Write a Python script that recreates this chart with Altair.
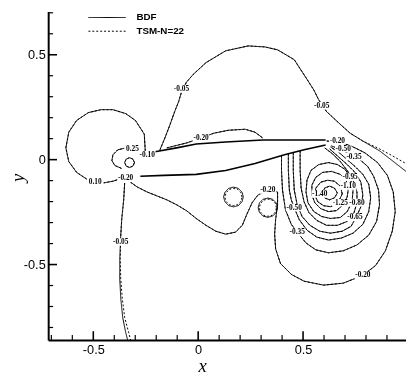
import altair as alt
import pandas as pd

# ---------------- axis ranges (data units) ----------------
X_DOMAIN = [-0.715, 0.9907]
Y_DOMAIN = [-0.8598, 0.7056]
W, H = 365, 335

x_major = [-0.5, 0.0, 0.5]
x_minor = [-0.7, -0.6, -0.4, -0.3, -0.2, -0.1, 0.1, 0.2, 0.3, 0.4, 0.6, 0.7, 0.8, 0.9]
y_major = [-0.5, 0.0, 0.5]
y_minor = [-0.8, -0.7, -0.6, -0.4, -0.3, -0.2, -0.1, 0.1, 0.2, 0.3, 0.4, 0.6, 0.7]

series_names = ["BDF", "TSM-N=22"]

# ---------------- airfoil ----------------
foil_up_x = [-0.2056, -0.1028, -0.0093, 0.1308, 0.3084, 0.4579, 0.6075]
foil_up_y = [0.0374, 0.0561, 0.0748, 0.0841, 0.0935, 0.0935, 0.0935]
foil_lo_x = [-0.2757, -0.1636, -0.0093, 0.1308, 0.2710, 0.4112, 0.5047, 0.6075]
foil_lo_y = [-0.0794, -0.0748, -0.0701, -0.0514, -0.0187, 0.0234, 0.0467, 0.0701]

# ---------------- contour lines, BDF ----------------
c010_x = [-0.2523, -0.2570, -0.2991, -0.3458, -0.4065, -0.4626, -0.5234, -0.5794, -0.6168, -0.6308,
          -0.6168, -0.5794, -0.5234, -0.4579, -0.4065, -0.3645]
c010_y = [0.0421, 0.1215, 0.1869, 0.2196, 0.2383, 0.2383, 0.2243, 0.1869, 0.1308, 0.0561,
          -0.0093, -0.0607, -0.0981, -0.1121, -0.1028, -0.0888]

c025_x = [-0.3458, -0.3832, -0.4065, -0.4112, -0.3972, -0.3645]
c025_y = [0.0561, 0.0467, 0.0234, -0.0047, -0.0280, -0.0421]

c040_x = [-0.3037, -0.3107, -0.3271, -0.3435, -0.3505, -0.3435, -0.3271, -0.3107, -0.3037]
c040_y = [-0.0140, 0.0024, 0.0093, 0.0024, -0.0140, -0.0304, -0.0374, -0.0304, -0.0140]

m005a_x = [-0.1822, -0.1589, -0.1355, -0.1121, -0.0935, -0.0794, -0.0561, -0.0234, 0.0374, 0.1308,
           0.2383, 0.3178, 0.3785, 0.4579, 0.5187, 0.5514, 0.5748, 0.6121, 0.6776, 0.7243,
           0.7850, 0.8645, 0.9252, 0.9907]
m005a_y = [0.0467, 0.1028, 0.1636, 0.2290, 0.2757, 0.3224, 0.3692, 0.4065, 0.4626, 0.5187,
           0.5421, 0.5374, 0.5234, 0.4766, 0.3832, 0.3318, 0.2850, 0.2290, 0.1682, 0.1262,
           0.0888, 0.0421, -0.0047, -0.0561]

m005b_x = [-0.3505, -0.3551, -0.3645, -0.3692, -0.3738, -0.3738, -0.3692, -0.3598, -0.3458, -0.3364]
m005b_y = [-0.1121, -0.1916, -0.2850, -0.3645, -0.4720, -0.5654, -0.6589, -0.7523, -0.8224, -0.8598]

m020a_x = [-0.1495, -0.0561, 0.0140, 0.0748, 0.1449, 0.2243, 0.2710, 0.3084]
m020a_y = [0.0561, 0.0794, 0.1028, 0.1262, 0.1402, 0.1449, 0.1308, 0.1028]

m020b_x = [-0.3224, -0.2897, -0.2430, -0.1963, -0.1495, -0.1028, -0.0561, -0.0093, 0.0374, 0.0841,
           0.1308, 0.1776, 0.2103, 0.2336, 0.2570, 0.2850, 0.3318, 0.3785, 0.3785, 0.3692,
           0.3645, 0.3692, 0.3925, 0.4439, 0.5047, 0.5981, 0.6916, 0.7850, 0.8458, 0.8925,
           0.9252, 0.9393, 0.9299, 0.9019, 0.8551, 0.7944, 0.7290, 0.6682, 0.6121]
m020b_y = [-0.1075, -0.1308, -0.1542, -0.1729, -0.1916, -0.2150, -0.2430, -0.2804, -0.3131, -0.3411,
           -0.3551, -0.3458, -0.3131, -0.2570, -0.2056, -0.1682, -0.1449, -0.1542, -0.2150, -0.2850,
           -0.3551, -0.4252, -0.4953, -0.5467, -0.5794, -0.5981, -0.5888, -0.5514, -0.5047, -0.4346,
           -0.3411, -0.2477, -0.1542, -0.0748, -0.0140, 0.0327, 0.0654, 0.0841, 0.0888]

ringA_x = [0.215, 0.209, 0.192, 0.168, 0.145, 0.128, 0.121, 0.128, 0.145, 0.168, 0.192, 0.209, 0.215]
ringA_y = [-0.178, -0.155, -0.137, -0.131, -0.137, -0.155, -0.178, -0.201, -0.219, -0.225, -0.219, -0.201, -0.178]
ringB_x = [0.378, 0.372, 0.355, 0.332, 0.309, 0.292, 0.286, 0.292, 0.309, 0.332, 0.355, 0.372, 0.378]
ringB_y = [-0.229, -0.206, -0.189, -0.183, -0.189, -0.206, -0.229, -0.252, -0.269, -0.275, -0.269, -0.252, -0.229]

m035_x = [0.3972, 0.3972, 0.4019, 0.4159, 0.4439, 0.4720, 0.5140, 0.5607, 0.6215, 0.6916,
          0.7570, 0.8131, 0.8505, 0.8645, 0.8598, 0.8364, 0.8084, 0.7710, 0.7290, 0.6822, 0.6355]
m035_y = [0.0187, -0.0514, -0.1449, -0.2383, -0.3084, -0.3458, -0.3972, -0.4299, -0.4439, -0.4346,
          -0.4065, -0.3598, -0.2944, -0.2150, -0.1449, -0.0794, -0.0327, 0.0000, 0.0234, 0.0467, 0.0654]

m050_x = [0.4299, 0.4299, 0.4346, 0.4439, 0.4579, 0.4813, 0.5187, 0.5654, 0.6215, 0.6822,
          0.7383, 0.7850, 0.8131, 0.8224, 0.8131, 0.7850, 0.7477, 0.7103, 0.6729, 0.6308]
m050_y = [0.0280, -0.0514, -0.1449, -0.1916, -0.2290, -0.2850, -0.3364, -0.3692, -0.3832, -0.3738,
          -0.3505, -0.3084, -0.2477, -0.1822, -0.1168, -0.0701, -0.0327, 0.0000, 0.0327, 0.0607]

m065_x = [0.4533, 0.4533, 0.4579, 0.4720, 0.4953, 0.5327, 0.5794, 0.6308, 0.6869, 0.7290,
          0.7523, 0.7757, 0.7850, 0.7757, 0.7477, 0.7103, 0.6682, 0.6262]
m065_y = [0.0327, -0.0514, -0.1449, -0.2150, -0.2710, -0.3131, -0.3411, -0.3505, -0.3411, -0.3178,
          -0.2757, -0.2243, -0.1682, -0.1075, -0.0607, -0.0234, 0.0140, 0.0514]

m080_x = [0.4860, 0.4860, 0.4907, 0.5047, 0.5280, 0.5654, 0.6121, 0.6636, 0.7103, 0.7430,
          0.7570, 0.7570, 0.7383, 0.7103, 0.6776, 0.6402, 0.6028]
m080_y = [0.0421, -0.0514, -0.1355, -0.2009, -0.2523, -0.2897, -0.3131, -0.3131, -0.2944, -0.2523,
          -0.2056, -0.1542, -0.0981, -0.0514, -0.0093, 0.0280, 0.0561]

m095_x = [0.7383, 0.7243, 0.7009, 0.6636, 0.6215, 0.5748, 0.5374, 0.5187, 0.5140, 0.5234,
          0.5514, 0.5888, 0.6308, 0.6776, 0.7103, 0.7336, 0.7383]
m095_y = [-0.1449, -0.0841, -0.0467, -0.0234, -0.0140, -0.0234, -0.0514, -0.0981, -0.1542, -0.2056,
          -0.2477, -0.2710, -0.2804, -0.2757, -0.2477, -0.2009, -0.1449]

m110_x = [0.7150, 0.7056, 0.6776, 0.6355, 0.5935, 0.5607, 0.5421, 0.5421, 0.5561, 0.5841,
          0.6215, 0.6589, 0.6916, 0.7103, 0.7150]
m110_y = [-0.1449, -0.0981, -0.0701, -0.0561, -0.0607, -0.0841, -0.1215, -0.1682, -0.2056, -0.2336,
          -0.2477, -0.2430, -0.2150, -0.1776, -0.1449]

m125_x = [0.6869, 0.6776, 0.6495, 0.6168, 0.5841, 0.5607, 0.5561, 0.5701, 0.5981, 0.6308, 0.6636, 0.6869]
m125_y = [-0.1636, -0.1262, -0.1028, -0.0981, -0.1075, -0.1355, -0.1682, -0.2009, -0.2196, -0.2243, -0.2103, -0.1636]

m140_x = [0.6636, 0.6495, 0.6262, 0.6028, 0.5935, 0.6028, 0.6262, 0.6495, 0.6636]
m140_y = [-0.1589, -0.1355, -0.1262, -0.1355, -0.1589, -0.1822, -0.1916, -0.1822, -0.1589]

# ---------------- TSM-N=22 where it differs from BDF ----------------
tsm_m005a_x = m005a_x[:21] + [0.8645, 0.9252, 0.9907]
tsm_m005a_y = m005a_y[:21] + [0.0514, 0.0187, -0.0187]
tsm_m005b_x = [-0.3505, -0.3551, -0.3645, -0.3692, -0.3715, -0.3692, -0.3621, -0.3505, -0.3318, -0.3224]
tsm_m005b_y = m005b_y
tsm_ringA_x = [0.209, 0.204, 0.189, 0.168, 0.148, 0.133, 0.127, 0.133, 0.148, 0.168, 0.189, 0.204, 0.209]
tsm_ringA_y = [-0.178, -0.158, -0.142, -0.137, -0.142, -0.158, -0.178, -0.199, -0.214, -0.219, -0.214, -0.199, -0.178]
tsm_ringB_x = [0.373, 0.368, 0.353, 0.332, 0.312, 0.297, 0.291, 0.297, 0.312, 0.332, 0.353, 0.368, 0.373]
tsm_ringB_y = [-0.229, -0.209, -0.193, -0.188, -0.193, -0.209, -0.229, -0.250, -0.265, -0.270, -0.265, -0.250, -0.229]

# ---------------- contour labels ----------------
lab_text = ["0.10", "0.25", "-0.10", "-0.20", "-0.05", "-0.05", "-0.05", "-0.20", "-0.20", "-0.20",
            "-0.50", "-0.35", "-0.95", "-1.10", "-1.40", "-1.25", "-0.80", "-0.65", "-0.50", "-0.35", "-0.20"]
lab_x = [-0.4907, -0.3131, -0.2430, -0.3458, -0.0794, 0.5888, -0.3692, 0.0140, 0.3318, 0.6636,
         0.6916, 0.7430, 0.7243, 0.7150, 0.5794, 0.6776, 0.7570, 0.7477, 0.4579, 0.4720, 0.7850]
lab_y = [-0.1075, 0.0514, 0.0234, -0.0888, 0.3364, 0.2570, -0.3925, 0.1028, -0.1449, 0.0888,
         0.0514, 0.0140, -0.0841, -0.1262, -0.1636, -0.2056, -0.2056, -0.2757, -0.2290, -0.3458, -0.5514]

# ---------------- assemble tables ----------------
bdf = {
    "c010": (c010_x, c010_y), "c025": (c025_x, c025_y), "c040": (c040_x, c040_y),
    "m005a": (m005a_x, m005a_y), "m005b": (m005b_x, m005b_y),
    "m020a": (m020a_x, m020a_y), "m020b": (m020b_x, m020b_y),
    "ringA": (ringA_x, ringA_y), "ringB": (ringB_x, ringB_y),
    "m035": (m035_x, m035_y), "m050": (m050_x, m050_y), "m065": (m065_x, m065_y),
    "m080": (m080_x, m080_y), "m095": (m095_x, m095_y), "m110": (m110_x, m110_y),
    "m125": (m125_x, m125_y), "m140": (m140_x, m140_y),
}
tsm = dict(bdf)
tsm["m005a"] = (tsm_m005a_x, tsm_m005a_y)
tsm["m005b"] = (tsm_m005b_x, tsm_m005b_y)
tsm["ringA"] = (tsm_ringA_x, tsm_ringA_y)
tsm["ringB"] = (tsm_ringB_x, tsm_ringB_y)

rows = []
for name, cset in [(series_names[0], bdf), (series_names[1], tsm)]:
    for cid, (xs_, ys_) in cset.items():
        assert len(xs_) == len(ys_), cid
        for i, (xv, yv) in enumerate(zip(xs_, ys_)):
            rows.append({"x": xv, "y": yv, "cid": name + "_" + cid, "ord": i, "series": name})
lines_df = pd.DataFrame(rows)

foil_rows = []
for part, xs_, ys_ in [("up", foil_up_x, foil_up_y), ("lo", foil_lo_x, foil_lo_y)]:
    for i, (xv, yv) in enumerate(zip(xs_, ys_)):
        foil_rows.append({"x": xv, "y": yv, "part": part, "ord": i})
foil_df = pd.DataFrame(foil_rows)

labels_df = pd.DataFrame({"x": lab_x, "y": lab_y, "t": lab_text})

xmaj_df = pd.DataFrame({"x": x_major})
xmin_df = pd.DataFrame({"x": x_minor})
ymaj_df = pd.DataFrame({"y": y_major})
ymin_df = pd.DataFrame({"y": y_minor})

# ---------------- chart ----------------
xs = alt.Scale(domain=X_DOMAIN, nice=False, zero=False)
ys = alt.Scale(domain=Y_DOMAIN, nice=False, zero=False)
lab_expr = "datum.value == 0 ? '0' : (datum.value < 0 ? '-' + format(-datum.value, '.1f') : format(datum.value, '.1f'))"

x_axis = alt.Axis(values=x_major, labelExpr=lab_expr, ticks=False, tickSize=0, grid=False,
                  labelPadding=4, title="x", titleX=157, titleY=26, titleBaseline="middle",
                  titleAlign="center")
y_axis = alt.Axis(values=y_major, labelExpr=lab_expr, ticks=False, tickSize=0, grid=False,
                  labelPadding=3, title="y", titleX=-31, titleY=169, titleBaseline="middle",
                  titleAlign="center")

contours = alt.Chart(lines_df).mark_line(color="black", strokeWidth=1, clip=True).encode(
    x=alt.X("x:Q", scale=xs, axis=x_axis),
    y=alt.Y("y:Q", scale=ys, axis=y_axis),
    detail="cid:N",
    order="ord:Q",
    strokeDash=alt.StrokeDash(
        "series:N",
        scale=alt.Scale(domain=series_names, range=[[1, 0], [2, 2]]),
        legend=alt.Legend(title=None, orient="none", legendX=53, legendY=-1,
                          symbolType="M-3,0H3", symbolSize=160, symbolStrokeWidth=1,
                          symbolStrokeColor="black", labelOffset=23,
                          labelFont="Liberation Sans", labelFontWeight="bold",
                          labelFontSize=10, labelColor="black", rowPadding=2, padding=0),
    ),
)

foil = alt.Chart(foil_df).mark_line(color="black", strokeWidth=1.6, clip=True).encode(
    x=alt.X("x:Q", scale=xs), y=alt.Y("y:Q", scale=ys), detail="part:N", order="ord:Q"
)

boxes = alt.Chart(labels_df).mark_point(
    shape="M-1,-0.45H1V0.45H-1Z", size=289, filled=True, color="white", opacity=1, strokeWidth=0
).encode(x=alt.X("x:Q", scale=xs), y=alt.Y("y:Q", scale=ys))
text = alt.Chart(labels_df).mark_text(
    font="Liberation Serif", fontWeight="bold", fontSize=7.5, color="black", blend="multiply",
    align="center", baseline="middle"
).encode(x=alt.X("x:Q", scale=xs), y=alt.Y("y:Q", scale=ys), text="t:N")

tx_maj = alt.Chart(xmaj_df).mark_rule(color="black", strokeWidth=1.6).encode(
    x=alt.X("x:Q", scale=xs), y=alt.value(H), y2=alt.value(H - 9))
tx_min = alt.Chart(xmin_df).mark_rule(color="black", strokeWidth=1.2).encode(
    x=alt.X("x:Q", scale=xs), y=alt.value(H), y2=alt.value(H - 5))
ty_maj = alt.Chart(ymaj_df).mark_rule(color="black", strokeWidth=1.6).encode(
    y=alt.Y("y:Q", scale=ys), x=alt.value(0), x2=alt.value(9))
ty_min = alt.Chart(ymin_df).mark_rule(color="black", strokeWidth=1.2).encode(
    y=alt.Y("y:Q", scale=ys), x=alt.value(0), x2=alt.value(5))

chart = alt.layer(contours, foil, boxes, text, tx_maj, tx_min, ty_maj, ty_min).properties(
    width=W, height=H,
    autosize=alt.AutoSizeParams(type="none"),
    padding={"left": 41, "top": 0, "right": 0, "bottom": 33},
).configure_view(stroke=None).configure_axis(
    domainColor="black", domainWidth=2,
    labelFont="Liberation Sans", labelFontSize=13, labelColor="black",
    titleFont="Liberation Serif", titleFontStyle="italic", titleFontWeight="normal",
    titleFontSize=19, titleColor="black",
)

chart.save("out.html", embed_options={"renderer": "svg", "actions": False})
